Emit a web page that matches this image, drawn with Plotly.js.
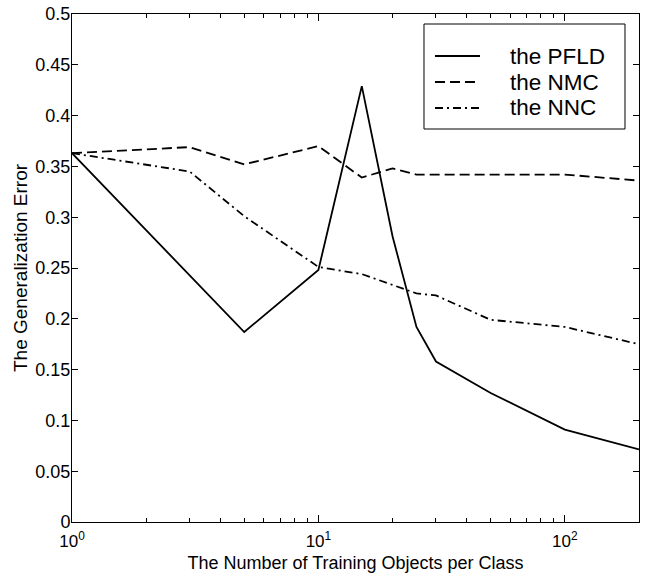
<!DOCTYPE html>
<html><head><meta charset="utf-8">
<script src="https://cdn.plot.ly/plotly-3.0.1.min.js"></script>
<style>html,body{margin:0;padding:0;background:#fff}</style>
</head><body><div id="chart" style="width:646px;height:578px"></div>
<script>
const trainingObjects = [1, 3, 5, 10, 15, 20, 25, 30, 50, 100, 200];
const pfldError = [0.363, 0.243, 0.187, 0.248, 0.429, 0.281, 0.192, 0.158, 0.127, 0.091, 0.0715];
const nmcError  = [0.363, 0.369, 0.352, 0.370, 0.339, 0.348, 0.342, 0.342, 0.342, 0.342, 0.336];
const nncError  = [0.363, 0.345, 0.301, 0.251, 0.244, 0.233, 0.225, 0.223, 0.199, 0.192, 0.175];
const seriesNames = ['the PFLD', 'the NMC', 'the NNC'];
const xTickVals = [1, 10, 100];
const xTickText = ['10<sup>0</sup>', '10<sup>1</sup>', '10<sup>2</sup>'];
const xMinorVals = [2, 3, 4, 5, 6, 7, 8, 9, 20, 30, 40, 50, 60, 70, 80, 90, 200];
const yTickVals = [0, 0.05, 0.1, 0.15, 0.2, 0.25, 0.3, 0.35, 0.4, 0.45, 0.5];
const yTickText = ['0', '0.05', '0.1', '0.15', '0.2', '0.25', '0.3', '0.35', '0.4', '0.45', '0.5'];
const xTitle = 'The Number of Training Objects per Class';
const yTitle = 'The Generalization Error';

const FONT = 'Liberation Sans, Arial, Helvetica, sans-serif';
const dashes = ['solid', '10px,5px', '8px,4px,2px,4px'];
const ys = [pfldError, nmcError, nncError];
const traces = ys.map((y, i) => ({
  x: trainingObjects, y: y, type: 'scatter', mode: 'lines', name: seriesNames[i],
  showlegend: false,
  line: {color: '#000', width: 1.8, dash: dashes[i]}
}));

// Hand-drawn legend box (layout only, in paper coordinates)
const legendBox = {x0: 0.6208, x1: 0.9753, y0: 0.7736, y1: 0.9803};
const legendRowY = [0.9173, 0.8661, 0.8150];
const legendLineX = [0.6402, 0.7196];
const legendTextX = 0.7707;

const shapes = [{
  type: 'rect', xref: 'paper', yref: 'paper',
  x0: legendBox.x0, x1: legendBox.x1, y0: legendBox.y0, y1: legendBox.y1,
  line: {color: '#000', width: 1}, fillcolor: '#fff', layer: 'above'
}];
const annotations = [];
seriesNames.forEach((name, i) => {
  shapes.push({
    type: 'line', xref: 'paper', yref: 'paper',
    x0: legendLineX[0], x1: legendLineX[1], y0: legendRowY[i], y1: legendRowY[i],
    line: {color: '#000', width: 1.8, dash: dashes[i]}, layer: 'above'
  });
  annotations.push({
    xref: 'paper', yref: 'paper', x: legendTextX, y: legendRowY[i],
    xanchor: 'left', yanchor: 'middle', showarrow: false, text: name,
    borderpad: 0,
    font: {family: FONT, size: 22.5, color: '#000'}
  });
});

const layout = {
  width: 646, height: 578,
  margin: {l: 72, r: 7, t: 14, b: 56},
  paper_bgcolor: '#fff', plot_bgcolor: '#fff',
  font: {family: FONT, color: '#000', size: 17},
  showlegend: false,
  shapes: shapes,
  annotations: annotations,
  xaxis: {
    type: 'log', range: [0, Math.log10(200)],
    tickmode: 'array', tickvals: xTickVals, ticktext: xTickText,
    ticks: 'inside', ticklen: 7, tickcolor: '#000', tickwidth: 1,
    minor: {tickmode: 'array', tickvals: xMinorVals, ticks: 'inside', ticklen: 4, tickcolor: '#000', showgrid: false},
    showline: true, linecolor: '#000', linewidth: 1, mirror: 'ticks',
    showgrid: false, zeroline: false,
    ticklabelstandoff: 4,
    tickfont: {family: FONT, size: 17, color: '#000'},
    title: {text: xTitle, font: {family: FONT, size: 18, color: '#000'}, standoff: 5}
  },
  yaxis: {
    range: [0, 0.5],
    tickmode: 'array', tickvals: yTickVals, ticktext: yTickText,
    ticks: 'inside', ticklen: 6, tickcolor: '#000', tickwidth: 1,
    showline: true, linecolor: '#000', linewidth: 1, mirror: 'ticks',
    showgrid: false, zeroline: false,
    ticklabelstandoff: -3,
    tickfont: {family: FONT, size: 18, color: '#000'},
    title: {text: yTitle, font: {family: FONT, size: 19, color: '#000'}, standoff: 2}
  }
};
Plotly.newPlot('chart', traces, layout, {displayModeBar: false, staticPlot: true});
</script></body></html>
